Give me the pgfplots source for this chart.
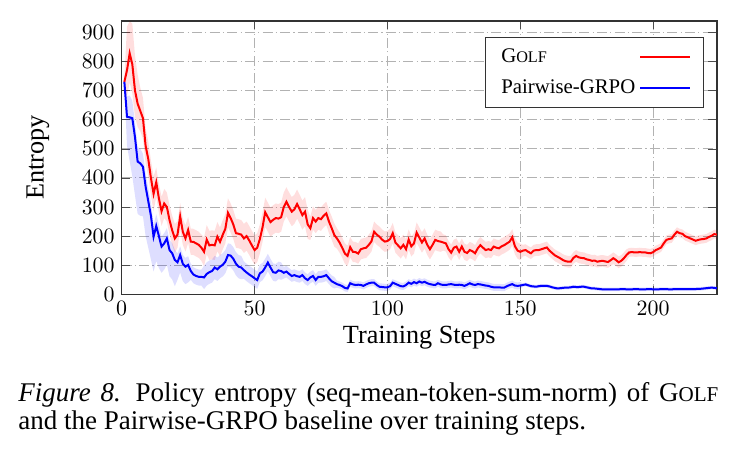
\documentclass[border=0pt]{standalone}
\usepackage{fontspec}
\setmainfont{Liberation Serif}
\usepackage{graphicx}
\usepackage{pgfplots}
\usepackage{pgfplotstable}
\pgfplotsset{compat=1.18}
\usepgfplotslibrary{fillbetween}

\newcommand{\golf}{G\scalebox{0.78}{OLF}}

% s: step; g/p: mean entropy; gd,gu / pd,pu: band extent below / above the mean
\pgfplotstableread{
s g gd gu p pd pu
1 730 15 15 730 15 15
2 770 90 150 610 100 70
3 828 100 110 608 150 75
4 790 100 140 605 200 60
5 700 90 120 540 200 50
6 655 80 100 456 180 50
7 630 70 80 450 180 50
8 605 70 70 438 170 45
9 510 60 60 370 170 45
10 465 60 60 320 160 45
11 400 60 60 270 150 45
12 345 60 60 198 120 40
13 385 50 50 235 120 40
14 330 50 50 200 110 40
15 285 50 50 164 90 35
16 312 50 50 175 90 35
17 300 50 50 192 90 35
18 255 50 50 152 90 35
19 220 50 50 141 90 35
20 192 50 50 118 90 35
21 205 45 45 110 60 30
22 268 45 45 135 60 30
23 215 45 45 105 60 30
24 192 45 45 95 60 30
25 221 45 45 101 60 30
26 181 45 45 80 30 25
27 180 45 45 68 30 25
28 175 45 45 63 30 25
29 170 45 45 60 30 25
30 160 45 45 60 30 25
31 146 50 50 58 40 40
32 188 50 50 70 40 40
33 168 50 50 76 40 40
34 170 50 50 80 40 40
35 168 50 50 92 40 40
36 198 50 50 86 40 40
37 180 50 50 95 40 40
38 204 50 50 101 40 40
39 225 50 50 112 40 40
40 280 50 50 135 40 40
41 262 50 50 133 40 40
42 240 50 50 122 40 40
43 210 50 50 105 40 40
44 208 50 50 95 40 40
45 205 50 50 92 40 40
46 192 50 50 83 30 30
47 200 50 50 75 30 30
48 185 50 50 68 30 30
49 168 50 50 62 30 30
50 152 50 50 55 30 30
51 160 50 50 49 30 30
52 190 50 50 72 30 30
53 230 50 50 78 30 30
54 282 50 50 92 30 30
55 265 50 50 109 30 30
56 248 50 50 92 30 30
57 256 50 50 76 30 30
58 262 50 50 74 30 30
59 260 50 50 82 30 30
60 265 50 50 80 30 30
61 300 50 50 74 20 20
62 318 50 50 78 20 20
63 300 50 50 70 20 20
64 284 50 50 63 20 20
65 292 50 50 66 20 20
66 310 50 50 62 20 20
67 292 50 50 60 20 20
68 272 50 50 66 20 20
69 284 50 50 55 20 20
70 240 50 50 49 20 20
71 227 40 40 58 20 20
72 262 40 40 63 20 20
73 250 40 40 49 20 20
74 262 40 40 60 20 20
75 258 40 40 60 20 20
76 270 40 40 62 20 20
77 278 40 40 66 20 20
78 250 40 40 55 20 20
79 228 40 40 45 20 20
80 204 40 40 40 20 20
81 192 35 35 35 12 12
82 178 35 35 32 12 12
83 160 35 35 28 12 12
84 140 35 35 22 12 12
85 132 35 35 20 12 12
86 162 35 35 38 12 12
87 146 35 35 34 12 12
88 145 35 35 32 12 12
89 140 35 35 33 12 12
90 155 35 35 32 12 12
91 158 35 35 29 12 12
92 160 35 35 34 12 12
93 170 35 35 38 12 12
94 182 35 35 40 12 12
95 215 35 35 40 12 12
96 205 35 35 32 12 12
97 198 35 35 26 12 12
98 188 35 35 25 12 12
99 181 35 35 24 12 12
100 183 35 35 24 12 12
101 190 35 35 28 12 12
102 210 35 35 40 12 12
103 178 35 35 36 12 12
104 168 35 35 32 12 12
105 158 35 35 28 12 12
106 170 35 35 27 12 12
107 155 35 35 32 12 12
108 188 35 35 40 12 12
109 165 35 35 36 12 12
110 175 35 35 42 12 12
111 212 35 35 38 12 12
112 195 35 35 44 12 12
113 178 35 35 40 12 12
114 192 35 35 43 12 12
115 170 35 35 38 12 12
116 155 35 35 35 12 12
117 170 35 35 33 12 12
118 187 35 35 32 12 12
119 183 35 35 38 12 12
120 181 35 35 34 12 12
121 178 28 28 32 12 12
122 175 28 28 32 12 12
123 155 28 28 34 12 12
124 143 28 28 35 12 12
125 160 28 28 33 12 12
126 164 28 28 32 12 12
127 146 28 28 33 12 12
128 164 28 28 32 12 12
129 146 28 28 29 12 12
130 142 28 28 33 12 12
131 152 28 28 38 12 12
132 148 28 28 34 12 12
133 141 28 28 32 12 12
134 158 28 28 35 12 12
135 169 28 28 34 12 12
136 160 28 28 32 12 12
137 152 28 28 30 12 12
138 155 28 28 29 12 12
139 152 28 28 26 12 12
140 164 28 28 24 12 12
141 160 28 28 24 12 12
142 158 28 28 24 12 12
143 165 28 28 23 12 12
144 169 28 28 23 12 12
145 175 28 28 28 12 12
146 181 28 28 32 12 12
147 196 28 28 35 12 12
148 165 28 28 30 12 12
149 150 28 28 29 12 12
150 146 28 28 30 12 12
151 150 20 20 32 6 6
152 152 20 20 34 6 6
153 146 20 20 31 6 6
154 141 20 20 28 6 6
155 150 20 20 27 6 6
156 152 20 20 26 6 6
157 152 20 20 28 6 6
158 155 20 20 29 6 6
159 158 20 20 29 6 6
160 161 20 20 29 6 6
161 150 20 20 27 6 6
162 142 20 20 24 6 6
163 134 20 20 22 6 6
164 129 20 20 20 6 6
165 124 20 20 21 6 6
166 118 20 20 22 6 6
167 114 20 20 23 6 6
168 112 20 20 23 6 6
169 112 20 20 24 6 6
170 125 20 20 26 6 6
171 132 20 20 25 6 6
172 127 20 20 25 6 6
173 125 20 20 26 6 6
174 124 20 20 26 6 6
175 120 20 20 24 6 6
176 118 20 20 22 6 6
177 115 20 20 20 6 6
178 116 20 20 20 6 6
179 112 20 20 19 6 6
180 114 20 20 18 6 6
181 115 20 20 17 6 6
182 113 20 20 17 6 6
183 111 20 20 17 6 6
184 117 20 20 17 6 6
185 124 20 20 17 6 6
186 118 20 20 17 6 6
187 110 20 20 17 6 6
188 115 20 20 18 6 6
189 124 20 20 18 6 6
190 135 20 20 17 6 6
191 144 15 15 17 6 6
192 145 15 15 17 6 6
193 144 15 15 18 6 6
194 144 15 15 18 6 6
195 145 15 15 17 6 6
196 144 15 15 17 6 6
197 144 15 15 17 6 6
198 142 15 15 18 6 6
199 141 15 15 18 6 6
200 145 15 15 17 6 6
201 152 15 15 17 6 6
202 156 15 15 17 6 6
203 161 15 15 18 6 6
204 175 15 15 18 6 6
205 187 15 15 18 6 6
206 190 15 15 17 6 6
207 192 15 15 17 6 6
208 205 15 15 18 6 6
209 215 15 15 18 6 6
210 210 15 15 18 6 6
211 208 15 15 18 6 6
212 200 15 15 18 6 6
213 196 15 15 18 6 6
214 192 15 15 18 6 6
215 188 15 15 18 6 6
216 184 15 15 18 6 6
217 187 15 15 19 6 6
218 189 15 15 19 6 6
219 190 15 15 20 6 6
220 192 15 15 21 6 6
221 197 15 15 22 6 6
222 201 15 15 23 6 6
223 207 15 15 22 6 6
224 205 15 15 21 6 6
}\entropydata

\begin{document}
\begin{tikzpicture}
\begin{axis}[
  at={(0pt,0pt)}, anchor=south west,
  scale only axis, width=297.6pt, height=136.8pt,
  xmin=0, xmax=224, ymin=0, ymax=940,
  xtick={0,50,...,200}, ytick={0,100,...,900},
  grid=major,
  grid style={gray!60, line width=0.45pt, dash pattern=on 5pt off 1.6pt on 0.6pt off 1.6pt},
  axis line style={black!80, line width=0.8pt},
  tick style={black!70},
  tick label style={font=\fontsize{11.3}{13}\selectfont},
  every axis y label/.style={at={(axis description cs:0,0.5)}, xshift=-41.85pt, rotate=90, anchor=center},
  every axis x label/.style={at={(axis description cs:0.5,0)}, yshift=-21.85pt, anchor=center},
  label style={font=\fontsize{13.1}{15}\selectfont},
  xlabel={Training Steps},
  ylabel={Entropy},
  legend plot pos=right,
  legend cell align=left,
  legend image code/.code={\draw[#1] (0pt,0pt) -- (25pt,0pt);},
  legend style={at={(axis description cs:1,1)}, anchor=north east, xshift=-6.5pt, yshift=-8.15pt,
    draw=black!80, line width=0.6pt, font=\fontsize{10.4}{12}\selectfont,
    inner xsep=6pt, inner ysep=3.5pt, row sep=3pt},
]
\addplot[draw=none, name path=gU, forget plot] table[x=s, y expr=\thisrow{g}+\thisrow{gu}] {\entropydata};
\addplot[draw=none, name path=gL, forget plot] table[x=s, y expr=\thisrow{g}-\thisrow{gd}] {\entropydata};
\addplot[fill=red, fill opacity=0.13, draw=none, forget plot] fill between[of=gU and gL];
\addplot[draw=none, name path=pU, forget plot] table[x=s, y expr=\thisrow{p}+\thisrow{pu}] {\entropydata};
\addplot[draw=none, name path=pL, forget plot] table[x=s, y expr=\thisrow{p}-\thisrow{pd}] {\entropydata};
\addplot[fill=blue, fill opacity=0.13, draw=none, forget plot] fill between[of=pU and pL];

\addplot[red, line width=1pt] table[x=s, y=g] {\entropydata};
\addlegendentry{\golf}
\addplot[blue, line width=1pt] table[x=s, y=p] {\entropydata};
\addlegendentry{Pairwise-GRPO}
\end{axis}
\node[anchor=base west, inner sep=0pt, text width=350pt, align=justify,
      font=\fontsize{13.5}{14}\selectfont] at (-51.85pt,-53.35pt)
  {\hyphenpenalty=10000\exhyphenpenalty=10000\textit{Figure 8.}\hspace{0.55em}Policy entropy (seq-mean-token-sum-norm) of \golf\linebreak and the Pairwise-GRPO baseline over training steps.};
\pgfresetboundingbox
\path[use as bounding box] (-60.85pt,-78.85pt) rectangle (306.65pt,147.15pt);
\end{tikzpicture}
\end{document}
